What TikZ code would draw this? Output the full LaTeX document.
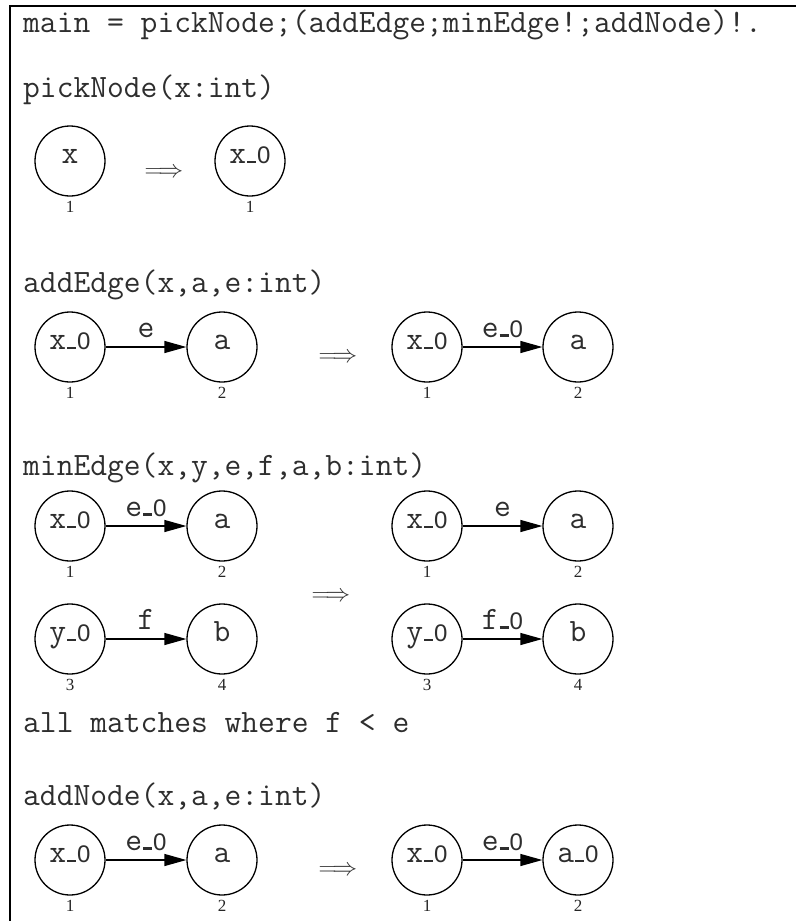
\documentclass[tikz,border=0pt]{standalone}
\usepackage{fontspec}
\setmainfont{Liberation Serif}
\newfontfamily\sansf{Liberation Sans}
\usetikzlibrary{arrows.meta}
\definecolor{txt}{HTML}{2E2E2E}
\newcommand\zr{\kern1pt\rule{9pt}{2.6pt}\kern1pt{\sansf\fontsize{24}{28}\selectfont 0}}
\tikzset{
 title/.style={anchor=base west, inner sep=0pt, font=\ttfamily\fontsize{32.6}{38}\selectfont, text=txt},
 gn/.style={circle, draw=black, line width=1.3pt, minimum size=70pt, inner sep=0pt,
   font=\ttfamily\fontsize{32.6}{38}\selectfont, text=txt, text height=1ex, text depth=0pt},
 num/.style={font=\fontsize{17}{20}\selectfont, inner sep=0pt, text=black!85},
 ed/.style={-{Triangle[length=22pt,width=12pt]}, line width=1.3pt, draw=black},
 el/.style={anchor=base, yshift=10pt, inner sep=0pt, font=\ttfamily\fontsize{32.6}{38}\selectfont, text=txt},
 impl/.style={inner sep=0pt, text=black!80, font=\fontsize{30}{34}\selectfont},
 frame/.style={line width=2pt, draw=black}
}
\begin{document}
\begin{tikzpicture}[x=1pt,y=-1pt]
\useasboundingbox (0,0) rectangle (796,921);
\fill[white] (0,0) rectangle (796,921);
\draw[frame] (9.5,921) -- (9.5,6) -- (796,6);

% titles
\node[title] (t0) at (23,32) {main = pickNode;(addEdge;minEdge!;addNode)!.};
\node[title] (t1) at (23,97) {pickNode(x:int)};
\node[title] (t2) at (23,292) {addEdge(x,a,e:int)};
\node[title] (t3) at (23,475) {minEdge(x,y,e,f,a,b:int)};
\node[title] (t4) at (23,732) {all matches where f < e};
\node[title] (t5) at (23,805) {addNode(x,a,e:int)};

% pickNode
\node[gn] (p1) at (70,161) {x};
\node[gn] (p2) at (250,161) {x\zr};
\node[num] (p1n) at ([yshift=-46pt]p1.center) {1};
\node[num] (p2n) at ([yshift=-46pt]p2.center) {1};
\node[impl] (pi) at (164,173) {$\Longrightarrow$};

% addEdge
\node[gn] (e1) at (70,347) {x\zr};
\node[gn] (e2) at (222,347) {a};
\node[gn] (e3) at (427,347) {x\zr};
\node[gn] (e4) at (578,347) {a};
\draw[ed] (e1) -- node[el] {e} (e2);
\draw[ed] (e3) -- node[el] {e\zr} (e4);
\node[num] (e1n) at ([yshift=-46pt]e1.center) {1};
\node[num] (e2n) at ([yshift=-46pt]e2.center) {2};
\node[num] (e3n) at ([yshift=-46pt]e3.center) {1};
\node[num] (e4n) at ([yshift=-46pt]e4.center) {2};
\node[impl] (ei) at (338,358) {$\Longrightarrow$};

% minEdge
\node[gn] (m1) at (70,526) {x\zr};
\node[gn] (m2) at (222,526) {a};
\node[gn] (m3) at (70,639) {y\zr};
\node[gn] (m4) at (222,639) {b};
\node[gn] (m5) at (427,526) {x\zr};
\node[gn] (m6) at (578,526) {a};
\node[gn] (m7) at (427,639) {y\zr};
\node[gn] (m8) at (578,639) {b};
\draw[ed] (m1) -- node[el] {e\zr} (m2);
\draw[ed] (m3) -- node[el] {f} (m4);
\draw[ed] (m5) -- node[el] {e} (m6);
\draw[ed] (m7) -- node[el] {f\zr} (m8);
\node[num] (m1n) at ([yshift=-46pt]m1.center) {1};
\node[num] (m2n) at ([yshift=-46pt]m2.center) {2};
\node[num] (m3n) at ([yshift=-46pt]m3.center) {3};
\node[num] (m4n) at ([yshift=-46pt]m4.center) {4};
\node[num] (m5n) at ([yshift=-46pt]m5.center) {1};
\node[num] (m6n) at ([yshift=-46pt]m6.center) {2};
\node[num] (m7n) at ([yshift=-46pt]m7.center) {3};
\node[num] (m8n) at ([yshift=-46pt]m8.center) {4};
\node[impl] (mi) at (331,597) {$\Longrightarrow$};

% addNode
\node[gn] (a1) at (70,860) {x\zr};
\node[gn] (a2) at (222,860) {a};
\node[gn] (a3) at (427,860) {x\zr};
\node[gn] (a4) at (578,860) {a\zr};
\draw[ed] (a1) -- node[el] {e\zr} (a2);
\draw[ed] (a3) -- node[el] {e\zr} (a4);
\node[num] (a1n) at ([yshift=-46pt]a1.center) {1};
\node[num] (a2n) at ([yshift=-46pt]a2.center) {2};
\node[num] (a3n) at ([yshift=-46pt]a3.center) {1};
\node[num] (a4n) at ([yshift=-46pt]a4.center) {2};
\node[impl] (ai) at (338,871) {$\Longrightarrow$};
\end{tikzpicture}
\end{document}
